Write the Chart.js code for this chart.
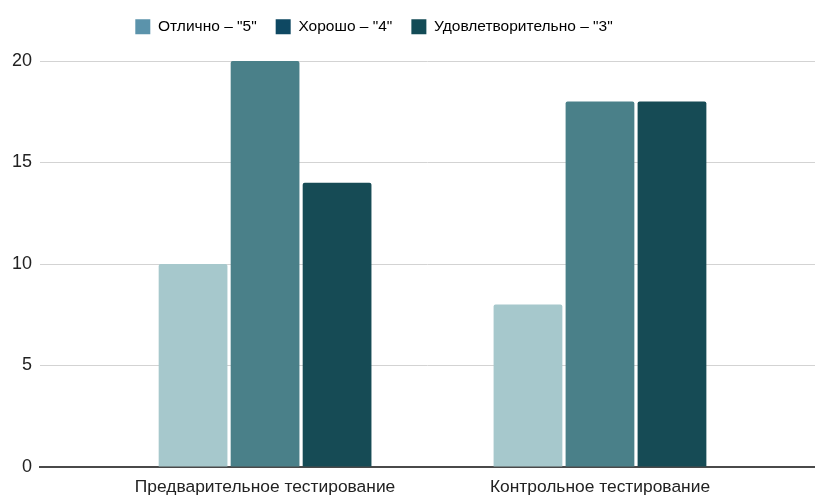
<!DOCTYPE html>
<html>
<head>
<meta charset="utf-8">
<script src="https://cdn.jsdelivr.net/npm/chart.js@4"></script>
<style>
  html, body { margin: 0; padding: 0; background: #fff; }
  #wrap { width: 815px; height: 497px; }
</style>
</head>
<body>
<div id="wrap"><canvas id="chart" width="815" height="497"></canvas></div>
<script>
Chart.defaults.devicePixelRatio = 1;
Chart.defaults.font.family = "'Liberation Sans', Arial, sans-serif";
Chart.defaults.color = "#222";

const categories = ["Предварительное тестирование", "Контрольное тестирование"];
const seriesNames = ['Отлично – "5"', 'Хорошо – "4"', 'Удовлетворительно – "3"'];
const excellent = [10, 8];
const good = [20, 18];
const satisfactory = [14, 18];
const yTicks = [0, 5, 10, 15, 20];

const barColors = ["#a6c8cc", "#4a8089", "#164b55"];
const legendColors = ["#5b93ab", "#0e4862", "#134b56"];

function toPoints(values) {
  return values.map((v, i) => ({ x: i, y: v }));
}

const datasets = [excellent, good, satisfactory].map((vals, i) => ({
  label: seriesNames[i],
  data: toPoints(vals),
  backgroundColor: barColors[i],
  borderWidth: 0,
  borderRadius: { topLeft: 2, topRight: 2 },
  borderSkipped: "bottom",
  categoryPercentage: 0.645,
  barPercentage: 0.955,
}));

// legend: fixed height above the plot, shifted left like the original
const legendTweak = {
  id: "legendTweak",
  beforeInit(chart) {
    const legend = chart.legend;
    const fit = legend.fit;
    legend.fit = function () {
      fit.call(this);
      this.height = 61;
    };
  },
  afterLayout(chart) {
    const shift = 374 - (chart.legend.left + chart.legend.right) / 2;
    chart.legend.left += shift;
    chart.legend.right += shift;
  },
};

new Chart(document.getElementById("chart"), {
  type: "bar",
  data: { datasets },
  plugins: [legendTweak],
  options: {
    responsive: false,
    maintainAspectRatio: false,
    animation: false,
    layout: { padding: { left: 6, right: 0, top: 0, bottom: 0 } },
    plugins: {
      tooltip: { enabled: false },
      legend: {
        position: "top",
        align: "center",
        labels: {
          boxWidth: 15,
          boxHeight: 15,
          padding: 19,
          font: { size: 15.5 },
          color: "#222",
          generateLabels: (chart) =>
            chart.data.datasets.map((ds, i) => ({
              text: ds.label,
              fillStyle: legendColors[i],
              strokeStyle: legendColors[i],
              lineWidth: 0,
              datasetIndex: i,
            })),
        },
      },
    },
    scales: {
      x: {
        type: "linear",
        offset: false,
        min: -0.672,
        max: 1.642,
        afterBuildTicks: (axis) => {
          axis.ticks = categories.map((_, i) => ({ value: i }));
        },
        afterFit: (axis) => {
          axis.height = 30;
        },
        ticks: {
          autoSkip: false,
          maxRotation: 0,
          padding: 12,
          font: { size: 17.4, lineHeight: 1 },
          color: "#222",
          callback: (v) => categories[v] || "",
        },
        grid: { display: false, drawTicks: false },
        border: { display: true, color: "#4a4a4a", width: 2 },
      },
      y: {
        min: 0,
        max: 20,
        afterBuildTicks: (axis) => {
          axis.ticks = yTicks.map((v) => ({ value: v }));
        },
        afterFit: (axis) => {
          axis.width = 34;
        },
        ticks: { padding: 8, font: { size: 18 }, color: "#222" },
        grid: { color: "#d3d3d3", lineWidth: 1, drawTicks: false },
        border: { display: false },
      },
    },
  },
});
</script>
</body>
</html>
